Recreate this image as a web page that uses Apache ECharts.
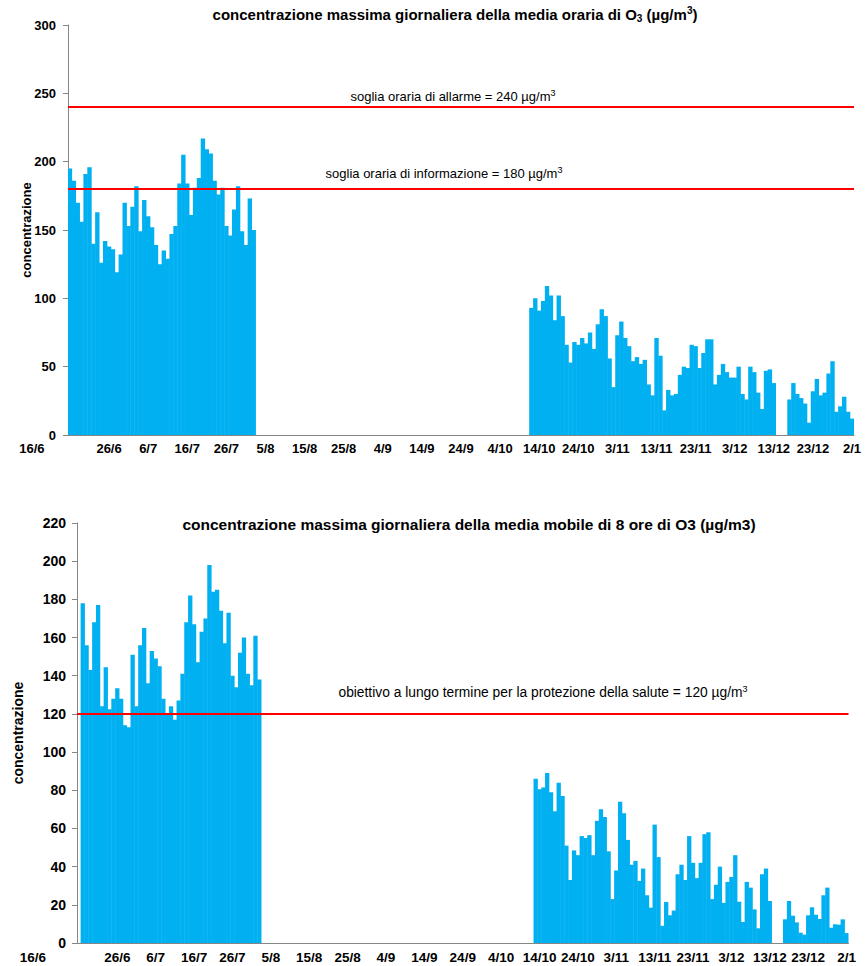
<!DOCTYPE html>
<html><head><meta charset="utf-8">
<script src="https://cdn.jsdelivr.net/npm/echarts@6/dist/echarts.min.js"></script>
<style>html,body{margin:0;padding:0;background:#fff}#c{width:865px;height:966px}</style>
</head><body><div id="c"></div>
<script>
// ---- categories: one per day, 16/6 .. 2/1 ----
const firstDay = [2021, 5, 16];   // year, month (0-based), day
const dayCount = 201;
const days = [];
for (let i = 0; i < dayCount; i++) {
  const d = new Date(firstDay[0], firstDay[1], firstDay[2] + i);
  days.push(d.getDate() + '/' + (d.getMonth() + 1));
}

// ---- top panel: daily max of hourly mean (µg/m³) ----
const hourlySummerStart = '16/6';
const hourlySummer = [195,186,170,156,191,196,140,163,126,142,138,136,119,132,170,153,167,182,149,172,
  160,152,139,125,135,129,147,153,184,205,184,161,181,188,217,209,206,186,176,181,
  153,146,165,182,149,139,173,150];
const hourlyAutumnStart = '12/10';
const hourlyAutumn = [93,100,91,98,109,102,84,102,87,66,
  53,68,66,71,67,75,63,81,92,87,
  56,35,73,83,71,65,54,57,52,55,
  37,29,71,58,18,33,29,30,44,50,
  49,66,65,49,60,70,70,37,44,52,
  46,42,42,50,30,26,50,46,31,19,
  47,48,38,null,null,null,26,38,30,27,
  23,9,32,41,29,31,45,54,17,21,
  28,17,12];

// ---- bottom panel: daily max of 8-hour moving mean (µg/m³) ----
const mobileSummerStart = '17/6';
const mobileSummer = [178,156,143,168,177,124,144.5,122.5,128,133.5,
  128,114,113,151,124,156,165,136,153,149,
  145,128,120,124,117,127,141,168,182,167,
  147,163,170,198,184,185,174,157,173,140,
  134,152,160,141,135,161,138];
const mobileAutumnStart = '13/10';
const mobileAutumn = [86,80.5,81.5,89,79,69,84,77,51,
  33,48.5,46,56,55,56.5,46,64,70,66,
  48,23,38,74,68,54,41,43,32.5,39,
  25,18.5,62,45,9,21.5,14.5,17,36,41,
  33,56,42,34,42,57,58,23,30.5,40,
  21,32,34.6,46,21.6,11,32,29,17.6,7.7,
  36,39,22,null,null,null,12.4,22,14.3,10.8,
  5.4,4.4,14.5,18.7,14.8,12.6,25,29,8,9.8,
  9.6,12.4,5.2];

// ---- axes ----
const topTicks = [0, 300, 50];      // min, max, step
const bottomTicks = [0, 220, 20];
const labelEvery = 10;              // days between x labels

// ---- thresholds ----
const topThresholds = [240, 180];
const topThresholdLabels = ['soglia oraria di allarme = 240 µg/m', 'soglia oraria di informazione = 180 µg/m'];
const bottomThresholds = [120];
const bottomThresholdLabels = ['obiettivo a lungo termine per la protezione della salute = 120 µg/m'];

function fill(parts) {
  const arr = days.map(() => null);
  parts.forEach(([start, vals]) => {
    const s = days.indexOf(start);
    vals.forEach((v, k) => { arr[s + k] = v; });
  });
  return arr;
}
const topData = fill([[hourlySummerStart, hourlySummer], [hourlyAutumnStart, hourlyAutumn]]);
const bottomData = fill([[mobileSummerStart, mobileSummer], [mobileAutumnStart, mobileAutumn]]);

const FONT = '"Liberation Sans", Arial, sans-serif';
const AXIS_COLOR = '#868686';
const BAR_COLOR = '#00B0F0';

function xAxis(i, fs, firstPad) {
  return {
    type: 'category', gridIndex: i, data: days, boundaryGap: true,
    axisLine: { lineStyle: { color: AXIS_COLOR, width: 1 } },
    axisTick: { interval: labelEvery - 1, length: 5, lineStyle: { color: AXIS_COLOR } },
    axisLabel: {
      interval: labelEvery - 1, color: '#000', fontWeight: 'bold', fontSize: fs, fontFamily: FONT, margin: 7,
      formatter: (v, idx) => idx === 0 ? '{first|' + v + '}' : v,
      rich: { first: { color: '#000', fontWeight: 'bold', fontSize: fs, fontFamily: FONT, padding: [0, firstPad, 0, 0] } }
    }
  };
}
function yAxis(i, t, gap, lm, fs) {
  return {
    type: 'value', gridIndex: i, min: t[0], max: t[1], interval: t[2],
    splitLine: { show: false },
    axisLine: { show: true, lineStyle: { color: AXIS_COLOR, width: 1 } },
    axisTick: { show: true, length: 5, lineStyle: { color: AXIS_COLOR } },
    axisLabel: { color: '#000', fontWeight: 'bold', fontSize: fs, fontFamily: FONT, margin: lm },
    name: 'concentrazione', nameLocation: 'middle', nameGap: gap, nameMoveOverlap: false,
    nameTextStyle: { color: '#000', fontWeight: 'bold', fontSize: fs, fontFamily: FONT }
  };
}
function barSeries(i, data, thresholds) {
  return {
    type: 'bar', xAxisIndex: i, yAxisIndex: i, data: data,
    barWidth: '112%',
    itemStyle: { color: BAR_COLOR },
    silent: true,
    markLine: {
      silent: true, symbol: 'none', animation: false,
      label: { show: false },
      lineStyle: { color: '#FF0000', width: 2, type: 'solid' },
      data: thresholds.map(v => ({ yAxis: v }))
    }
  };
}

const chart = echarts.init(document.getElementById('c'), null, { renderer: 'svg' });
chart.setOption({
  animation: false,
  backgroundColor: '#fff',
  grid: [
    { left: 68, right: 11, top: 25, height: 410 },
    { left: 77, right: 16.5, top: 523, height: 420 }
  ],
  xAxis: [xAxis(0, 13, 76), xAxis(1, 13.5, 92)],
  yAxis: [yAxis(0, topTicks, 35, 12, 13), yAxis(1, bottomTicks, 52, 11, 14)],
  series: [barSeries(0, topData, topThresholds), barSeries(1, bottomData, bottomThresholds)]
});

// titles and threshold captions
function titleStyle(fs) {
  return {
    fontFamily: FONT, fontWeight: 'bold', fontSize: fs, fill: '#000', align: 'center', verticalAlign: 'middle',
    rich: {
      b: { fontFamily: FONT, fontWeight: 'bold', fontSize: fs, lineHeight: 18, fill: '#000' },
      sub: { fontFamily: FONT, fontWeight: 'bold', fontSize: 10, lineHeight: 10, verticalAlign: 'bottom', fill: '#000' },
      sup: { fontFamily: FONT, fontWeight: 'bold', fontSize: 10, lineHeight: 10, verticalAlign: 'top', fill: '#000' }
    }
  };
}
const g = [];
g.push({ type: 'text', x: 455, y: 14, style: Object.assign(titleStyle(15),
  { text: '{b|concentrazione massima giornaliera della media oraria di O}{sub|3}{b| (µg/m}{sup|3}{b|)}' }) });
g.push({ type: 'text', x: 469, y: 524, style: Object.assign(titleStyle(15.5),
  { text: '{b|concentrazione massima giornaliera della media mobile di 8 ore di O3 (µg/m3)}' }) });

function capStyle(fs) {
  return {
    fontFamily: FONT, fontSize: fs, fill: '#000', align: 'center', verticalAlign: 'middle',
    rich: {
      t: { fontFamily: FONT, fontSize: fs, lineHeight: 16, fill: '#000' },
      sup: { fontFamily: FONT, fontSize: 9, lineHeight: 9, verticalAlign: 'top', fill: '#000' }
    }
  };
}
const topCapX = [453, 444], topCapUp = [11, 16];
topThresholds.forEach((v, k) => {
  const y = chart.convertToPixel({ yAxisIndex: 0 }, v);
  g.push({ type: 'text', x: topCapX[k], y: y - topCapUp[k],
    style: Object.assign(capStyle(13), { text: '{t|' + topThresholdLabels[k] + '}{sup|3}' }) });
});
bottomThresholds.forEach((v, k) => {
  const y = chart.convertToPixel({ yAxisIndex: 1 }, v);
  g.push({ type: 'text', x: 543, y: y - 21,
    style: Object.assign(capStyle(13.8), { text: '{t|' + bottomThresholdLabels[k] + '}{sup|3}' }) });
});
chart.setOption({ graphic: g });
</script>
</body></html>
